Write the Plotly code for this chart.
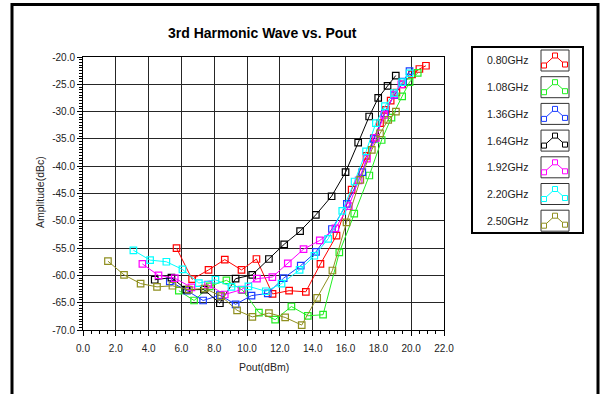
import plotly.graph_objects as go

# ---------------- data ----------------
series_names = ["0.80GHz", "1.08GHz", "1.36GHz", "1.64GHz", "1.92GHz", "2.20GHz", "2.50GHz"]
series_colors = ["#ff0000", "#22ee22", "#1a3cff", "#000000", "#ff00ff", "#00ffff", "#8f8f1f"]

pout_080 = [5.7, 6.65, 7.65, 8.64, 9.66, 10.57, 11.55, 12.56, 13.58, 14.47, 15.45, 16.37, 17.28, 17.75, 18.1, 18.46, 18.75, 19.1, 19.45, 20.05, 20.5, 20.9]
amp_080 = [-55.0, -60.7, -59.0, -57.1, -59.0, -57.0, -63.4, -62.8, -63.0, -57.9, -52.7, -44.3, -38.1, -34.8, -32.1, -29.7, -28.0, -26.5, -25.0, -23.2, -22.2, -21.6]

pout_108 = [5.84, 6.77, 7.72, 8.74, 9.72, 10.72, 11.71, 12.7, 13.7, 14.63, 15.62, 16.53, 17.45, 18.2, 18.8, 19.45, 19.9, 20.4]
amp_108 = [-62.8, -64.6, -62.0, -60.9, -62.7, -66.8, -68.1, -65.7, -67.4, -67.2, -55.8, -48.7, -41.7, -35.2, -31.1, -27.2, -24.6, -22.9]

pout_136 = [5.29, 6.34, 7.32, 8.34, 9.3, 10.27, 11.26, 12.23, 13.27, 14.2, 15.17, 16.08, 17.02, 17.72, 18.4, 18.96, 19.5, 19.9]
amp_136 = [-61.1, -62.8, -64.6, -63.6, -65.3, -63.7, -63.3, -60.5, -58.2, -55.7, -51.5, -46.9, -41.1, -35.0, -30.3, -27.0, -24.5, -22.6]

pout_164 = [4.37, 5.39, 6.3, 7.37, 8.34, 9.3, 10.31, 11.33, 12.26, 13.23, 14.19, 15.15, 16.0, 16.77, 17.44, 17.99, 18.56, 19.06]
amp_164 = [-60.8, -60.4, -62.6, -62.6, -65.1, -60.6, -59.9, -57.0, -54.3, -51.9, -48.9, -45.5, -41.1, -35.7, -30.9, -27.5, -25.3, -23.4]

pout_192 = [3.62, 4.6, 5.59, 6.61, 7.62, 8.64, 9.66, 10.6, 11.54, 12.48, 13.44, 14.43, 15.38, 16.2, 16.8, 17.3, 17.85, 18.35, 18.95, 19.4]
amp_192 = [-57.9, -60.0, -60.5, -62.2, -61.7, -63.5, -62.6, -60.6, -60.3, -57.8, -55.2, -53.6, -51.4, -47.3, -42.6, -38.6, -34.8, -30.6, -26.9, -25.0]

pout_220 = [3.07, 4.09, 5.08, 6.06, 7.06, 8.07, 9.05, 10.08, 11.14, 12.1, 13.2, 14.1, 14.94, 15.8, 16.55, 17.25, 17.85, 18.4, 18.95, 19.45, 19.9]
amp_220 = [-55.4, -57.2, -57.5, -58.9, -61.4, -60.8, -62.1, -62.0, -62.9, -61.5, -59.0, -56.4, -53.3, -48.2, -42.8, -37.3, -32.1, -29.0, -26.6, -24.6, -23.0]

pout_250 = [1.52, 2.5, 3.51, 4.51, 5.45, 6.45, 7.42, 8.42, 9.39, 10.32, 11.33, 12.32, 13.33, 14.27, 15.2, 16.06, 16.9, 17.6, 18.1, 18.6, 19.07]
amp_250 = [-57.4, -59.9, -61.5, -62.1, -61.9, -62.6, -62.4, -63.8, -66.4, -67.6, -66.9, -67.7, -69.1, -64.1, -59.1, -50.3, -42.5, -37.0, -34.0, -31.5, -30.0]

x_series = [pout_080, pout_108, pout_136, pout_164, pout_192, pout_220, pout_250]
y_series = [amp_080, amp_108, amp_136, amp_164, amp_192, amp_220, amp_250]

x_tick_vals = [0, 2, 4, 6, 8, 10, 12, 14, 16, 18, 20, 22]
x_tick_text = ["0.0", "2.0", "4.0", "6.0", "8.0", "10.0", "12.0", "14.0", "16.0", "18.0", "20.0", "22.0"]
y_tick_vals = [-20, -25, -30, -35, -40, -45, -50, -55, -60, -65, -70]
y_tick_text = ["-20.0", "-25.0", "-30.0", "-35.0", "-40.0", "-45.0", "-50.0", "-55.0", "-60.0", "-65.0", "-70.0"]

x_range = [0, 22]
y_range = [-70, -20]

# ---------------- figure ----------------
W, H = 605, 394
L, R, T, B = 83, 444, 57, 330  # plot area in pixels

def px(p):
    return (p - L) / (R - L)

def py(p):
    return (B - p) / (B - T)

FONT = "Liberation Sans, Arial, sans-serif"

fig = go.Figure()
for xs, ys, name, col in zip(x_series, y_series, series_names, series_colors):
    fig.add_trace(go.Scatter(
        x=xs, y=ys, name=name, mode="lines+markers",
        line=dict(color=col, width=1),
        marker=dict(symbol="square-open", size=6.5, color=col, line=dict(width=1.2, color=col)),
        showlegend=False,
    ))

shapes = []
annotations = []

# outer frame
shapes.append(dict(type="rect", xref="paper", yref="paper",
                   x0=px(12), x1=px(598), y0=py(410), y1=py(4.5),
                   line=dict(color="black", width=3), fillcolor="rgba(0,0,0,0)", layer="above"))

# legend box
shapes.append(dict(type="rect", xref="paper", yref="paper",
                   x0=px(472), x1=px(583), y0=py(233), y1=py(47),
                   line=dict(color="black", width=2), fillcolor="white", layer="above"))

for i, (name, col) in enumerate(zip(series_names, series_colors)):
    cy = 60.5 + 26.7 * i
    annotations.append(dict(text=name, xref="paper", yref="paper", x=px(530), y=py(cy),
                            xanchor="right", yanchor="middle", showarrow=False,
                            font=dict(family=FONT, size=10.5, color="#222")))
    shapes.append(dict(type="rect", xref="paper", yref="paper",
                       x0=px(541), x1=px(569), y0=py(cy + 10.5), y1=py(cy - 10.5),
                       line=dict(color="#333", width=1), fillcolor="white", layer="above"))
    pts = [(544, cy + 5), (555, cy - 5), (565, cy + 4)]
    path = "M {} {} L {} {} L {} {}".format(px(542), py(cy + 7), px(pts[0][0]), py(pts[0][1]),
                                            px(pts[1][0]), py(pts[1][1]))
    path += " L {} {}".format(px(pts[2][0]), py(pts[2][1]))
    shapes.append(dict(type="path", xref="paper", yref="paper", path=path,
                       line=dict(color=col, width=1), layer="above"))
    for (qx, qy) in pts:
        shapes.append(dict(type="rect", xref="paper", yref="paper",
                           x0=px(qx - 2.5), x1=px(qx + 2.5), y0=py(qy + 2.5), y1=py(qy - 2.5),
                           line=dict(color=col, width=1), fillcolor="white", layer="above"))

# title
annotations.append(dict(text="<b>3rd Harmonic Wave vs. Pout</b>", xref="paper", yref="paper",
                        x=px(262), y=py(33), xanchor="center", yanchor="middle", showarrow=False,
                        font=dict(family=FONT, size=14, color="black")))
# axis titles
annotations.append(dict(text="Pout(dBm)", xref="paper", yref="paper",
                        x=px(264), y=py(367), xanchor="center", yanchor="middle", showarrow=False,
                        font=dict(family=FONT, size=10.5, color="#222")))
annotations.append(dict(text="Amplitude(dBc)", xref="paper", yref="paper",
                        x=px(40), y=py(192), xanchor="center", yanchor="middle", showarrow=False,
                        textangle=-90, font=dict(family=FONT, size=10.5, color="#222")))

axis_common = dict(
    showgrid=True, gridcolor="#262626", gridwidth=1.4,
    showline=True, linecolor="black", linewidth=1, mirror=True,
    ticks="outside", tickcolor="black", ticklen=5, tickwidth=1,
    tickmode="array", zeroline=False,
    tickfont=dict(family=FONT, size=10, color="#222"),
)

fig.update_layout(
    width=W, height=H,
    margin=dict(l=L, r=W - R, t=T, b=H - B, autoexpand=False),
    paper_bgcolor="white", plot_bgcolor="white",
    xaxis=dict(range=x_range, tickvals=x_tick_vals, ticktext=x_tick_text, ticklabelstandoff=4,
               minor=dict(dtick=0.5, tick0=0, ticks="outside", ticklen=3, tickcolor="black", showgrid=False),
               **axis_common),
    yaxis=dict(range=y_range, tickvals=y_tick_vals, ticktext=y_tick_text,
               minor=dict(dtick=0.5, tick0=-70, ticks="outside", ticklen=3, tickcolor="black", showgrid=False),
               **axis_common),
    shapes=shapes,
    annotations=annotations,
    showlegend=False,
)

fig.write_html("out.html", config={"displayModeBar": False},
               post_script="document.body.style.margin='0px';document.body.style.overflow='hidden';")
